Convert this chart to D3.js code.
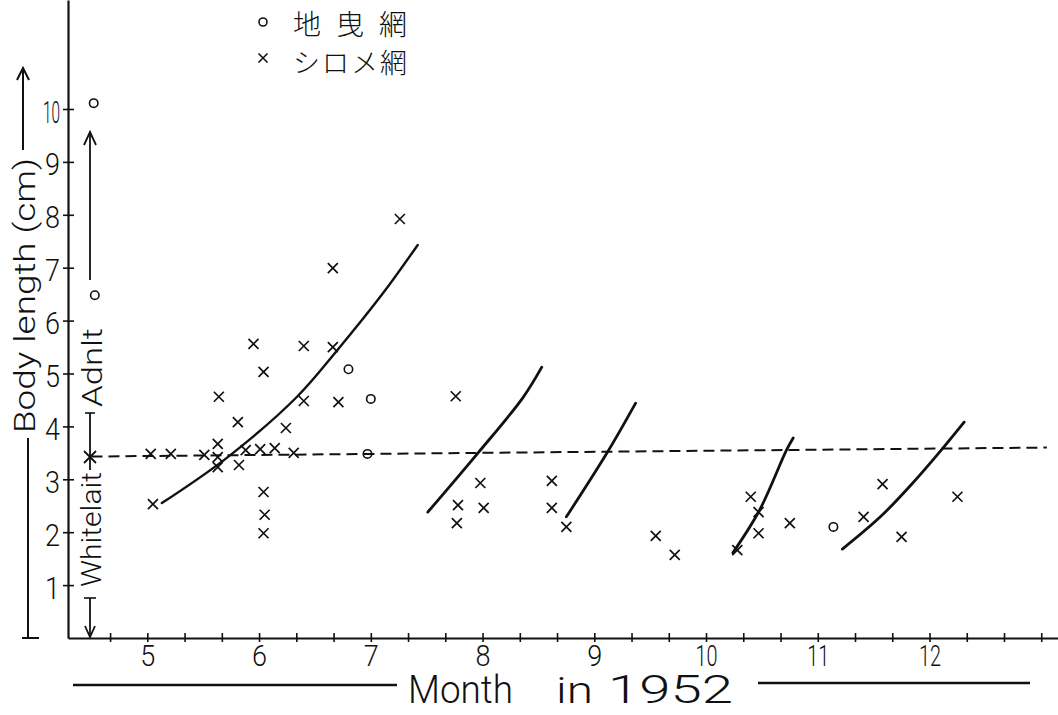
<!DOCTYPE html>
<html>
<head>
<meta charset="utf-8">
<script src="https://cdn.jsdelivr.net/npm/d3@7"></script>
<style>
  html, body { margin: 0; padding: 0; background: #fff; }
  svg { display: block; }
  .lat { font-family: Roboto, "Liberation Sans Narrow", "DejaVu Sans", sans-serif; font-weight: 300; fill: #111; }
  .cjk { font-family: "Noto Sans CJK JP", sans-serif; font-weight: 300; fill: #111; }
</style>
</head>
<body>
<svg id="chart" width="1058" height="715"></svg>
<script>
// ---------------- data ----------------
const monthTicks = [5, 6, 7, 8, 9, 10, 11, 12];
const monthLabels = ["5", "6", "7", "8", "9", "10", "11", "12"];
const lengthTicks = [1, 2, 3, 4, 5, 6, 7, 8, 9, 10];
const lengthLabels = ["1", "2", "3", "4", "5", "6", "7", "8", "9", "10"];

// 地曳網 (circles): month, body length (cm)
const circleMonth  = [4.52, 4.53, 6.80, 7.00, 6.97, 11.14];
const circleLength = [10.11, 6.48, 5.08, 4.52, 3.48, 2.10];

// シロメ網 (crosses): month, body length (cm)
const crossMonth = [
  7.26, 6.66, 5.95, 6.40, 6.66, 6.04, 5.64, 6.40, 6.71, 5.81, 6.24, 5.63, 5.03, 5.21,
  5.51, 5.63, 5.88, 6.01, 6.14, 6.31, 5.63, 5.82, 6.04, 6.05, 6.04, 5.05,
  7.76, 7.98, 7.78, 8.01, 7.77, 8.62, 8.62, 8.75, 9.55, 9.72,
  10.40, 10.47, 10.47, 10.28, 10.75, 11.41, 11.58, 11.75, 12.25
];
const crossLength = [
  7.92, 6.99, 5.56, 5.52, 5.50, 5.03, 4.56, 4.48, 4.46, 4.08, 3.97, 3.67, 3.48, 3.48,
  3.46, 3.42, 3.55, 3.57, 3.59, 3.50, 3.23, 3.27, 2.76, 2.33, 1.98, 2.53,
  4.57, 2.93, 2.51, 2.46, 2.17, 2.97, 2.46, 2.10, 1.93, 1.57,
  2.67, 2.38, 1.98, 1.66, 2.17, 2.29, 2.91, 1.91, 2.67
];

// growth curves: [month, length]
const curve1 = [[5.13, 2.55], [5.72, 3.42], [6.34, 4.56], [6.70, 5.44], [7.11, 6.52], [7.42, 7.43]];
const curve2 = [[7.51, 2.38], [7.96, 3.50], [8.36, 4.54], [8.53, 5.12]];
const curve3 = [[8.75, 2.29], [9.12, 3.52], [9.37, 4.44]];
const curve4 = [[10.24, 1.61], [10.48, 2.42], [10.72, 3.55], [10.78, 3.78]];
const curve5 = [[11.22, 1.68], [11.56, 2.29], [11.85, 2.93], [12.12, 3.59], [12.31, 4.08]];

// whitebait / adult boundary (dashed)
const boundary = [[4.50, 3.43], [13.05, 3.60]];

// ---------------- drawing ----------------
const svg = d3.select("#chart");
const ink = "#111";

const x = d3.scaleLinear().domain([4.29, 13.15]).range([68, 1058]);
const y = d3.scaleLinear().domain([0, 12.06]).range([638, 0]);

// X axis (ticks every 1/3 month, labels on whole months)
const thirds = d3.range(14, 40).map(k => k / 3);
const xAxis = d3.axisBottom(x)
  .tickValues(thirds)
  .tickSize(0)
  .tickSizeOuter(0)
  .tickPadding(8)
  .tickFormat(d => {
    const i = monthTicks.findIndex(m => Math.abs(m - d) < 1e-6);
    return i >= 0 ? monthLabels[i] : "";
  });
const gx = svg.append("g").attr("transform", "translate(0,638)").call(xAxis);
gx.select(".domain").attr("stroke", ink).attr("stroke-width", 2.2);
gx.selectAll(".tick line").attr("stroke", ink).attr("stroke-width", 1.6).attr("y1", -5).attr("y2", 4);
gx.selectAll(".tick text")
  .attr("class", "lat")
  .style("font-size", "30px")
  .attr("fill", ink)
  .attr("dy", "0.68em")
  .each(function(d) {
    const t = d3.select(this).text();
    if (t) d3.select(this).attr("textLength", t.length > 1 ? 22 : 15).attr("lengthAdjust", "spacingAndGlyphs");
  });

// Y axis
const yAxis = d3.axisLeft(y)
  .tickValues(lengthTicks)
  .tickSize(0)
  .tickSizeOuter(0)
  .tickPadding(8)
  .tickFormat((d, i) => lengthLabels[i]);
const gy = svg.append("g").attr("transform", "translate(68,0)").call(yAxis);
gy.select(".domain").attr("stroke", ink).attr("stroke-width", 2.2);
gy.selectAll(".tick line").attr("stroke", ink).attr("stroke-width", 1.6).attr("x1", -5).attr("x2", 6);
gy.selectAll(".tick text")
  .attr("class", "lat")
  .style("font-size", "31px")
  .attr("fill", ink)
  .attr("dy", "0.42em")
  .each(function() {
    const t = d3.select(this).text();
    d3.select(this).attr("textLength", t.length > 1 ? 17 : 15).attr("lengthAdjust", "spacingAndGlyphs");
  });

// dashed boundary line
const line = d3.line().x(d => x(d[0])).y(d => y(d[1]));
svg.append("path")
  .attr("d", line(boundary))
  .attr("fill", "none")
  .attr("stroke", ink)
  .attr("stroke-width", 2)
  .attr("stroke-dasharray", "11,6");

// growth curves
const curveLine = d3.line().x(d => x(d[0])).y(d => y(d[1])).curve(d3.curveCatmullRom);
[curve1, curve2, curve3, curve4, curve5].forEach((c, i) => {
  svg.append("path")
    .attr("d", curveLine(c))
    .attr("fill", "none")
    .attr("stroke", ink)
    .attr("stroke-width", i === 0 ? 2.4 : 2.8)
    .attr("stroke-linecap", "round");
});

// circles (地曳網)
svg.append("g").selectAll("circle")
  .data(circleMonth.map((m, i) => [m, circleLength[i]]))
  .join("circle")
  .attr("cx", d => x(d[0]))
  .attr("cy", d => y(d[1]))
  .attr("r", 4.2)
  .attr("fill", "none")
  .attr("stroke", ink)
  .attr("stroke-width", 1.6);

// crosses (シロメ網)
const xPath = "M-5,-5L5,5M-5,5L5,-5";
svg.append("g").selectAll("path")
  .data(crossMonth.map((m, i) => [m, crossLength[i]]))
  .join("path")
  .attr("d", xPath)
  .attr("transform", d => `translate(${x(d[0])},${y(d[1])})`)
  .attr("fill", "none")
  .attr("stroke", ink)
  .attr("stroke-width", 1.7);

// legend
const lg = svg.append("g");
lg.append("circle").attr("cx", 263).attr("cy", 22).attr("r", 4).attr("fill", "none").attr("stroke", ink).attr("stroke-width", 1.6);
lg.append("path").attr("d", "M-4.5,-4.5L4.5,4.5M-4.5,4.5L4.5,-4.5").attr("transform", "translate(263,58)")
  .attr("fill", "none").attr("stroke", ink).attr("stroke-width", 1.6);
lg.append("text").attr("class", "cjk").attr("x", 293).attr("y", 23).attr("dominant-baseline", "central")
  .style("font-size", "28px").attr("textLength", 114).attr("lengthAdjust", "spacing").text("地曳網");
lg.append("text").attr("class", "cjk").attr("x", 293).attr("y", 61).attr("dominant-baseline", "central")
  .style("font-size", "27px").attr("textLength", 114).attr("lengthAdjust", "spacing").text("シロメ網");

// ---- left annotations ----
const ann = svg.append("g").attr("stroke", ink).attr("fill", "none").attr("stroke-width", 2);
// outer: Body length (cm) with arrow
ann.append("line").attr("x1", 23).attr("y1", 150).attr("x2", 23).attr("y2", 68);
ann.append("path").attr("d", "M17,80L23,68L29,80");
ann.append("line").attr("x1", 28).attr("y1", 438).attr("x2", 28).attr("y2", 638);
ann.append("line").attr("x1", 22).attr("y1", 638).attr("x2", 39).attr("y2", 638);
svg.append("text").attr("class", "lat")
  .attr("transform", "translate(35,433) rotate(-90)")
  .style("font-size", "30px")
  .attr("textLength", 275).attr("lengthAdjust", "spacingAndGlyphs")
  .text("Body length (cm)");

// inner: Adult / Whitebait
ann.append("line").attr("x1", 90).attr("y1", 280).attr("x2", 90).attr("y2", 132).attr("stroke-width", 1.8);
ann.append("path").attr("d", "M84,145L90,132L96,145").attr("stroke-width", 1.8);
ann.append("line").attr("x1", 90).attr("y1", 413).attr("x2", 90).attr("y2", 470).attr("stroke-width", 1.8);
ann.append("line").attr("x1", 85).attr("y1", 413).attr("x2", 95).attr("y2", 413).attr("stroke-width", 1.6);
ann.append("path").attr("d", "M84,451L96,463M84,463L96,451").attr("stroke-width", 1.8);
ann.append("line").attr("x1", 84).attr("y1", 598).attr("x2", 96).attr("y2", 598).attr("stroke-width", 1.6);
ann.append("line").attr("x1", 90).attr("y1", 598).attr("x2", 90).attr("y2", 637).attr("stroke-width", 1.8);
ann.append("path").attr("d", "M85,626L90,637L95,626").attr("stroke-width", 1.8);
svg.append("text").attr("class", "lat")
  .attr("transform", "translate(102,407) rotate(-90)")
  .style("font-size", "28px")
  .attr("textLength", 79).attr("lengthAdjust", "spacingAndGlyphs")
  .text("Adnlt");
svg.append("text").attr("class", "lat")
  .attr("transform", "translate(101,587) rotate(-90)")
  .style("font-size", "28px")
  .attr("textLength", 115).attr("lengthAdjust", "spacingAndGlyphs")
  .text("Whitelait");

// x title
ann.append("line").attr("x1", 73).attr("y1", 685).attr("x2", 397).attr("y2", 685).attr("stroke-width", 2.4);
ann.append("line").attr("x1", 758).attr("y1", 683).attr("x2", 1030).attr("y2", 683).attr("stroke-width", 2.4);
svg.append("text").attr("class", "lat").attr("x", 408).attr("y", 703)
  .style("font-size", "38px").attr("textLength", 105).attr("lengthAdjust", "spacingAndGlyphs").text("Month");
svg.append("text").attr("class", "lat").attr("x", 556).attr("y", 703)
  .style("font-size", "36px").attr("textLength", 37).attr("lengthAdjust", "spacingAndGlyphs").text("in");
svg.append("text").attr("class", "lat").attr("x", 608).attr("y", 703)
  .style("font-size", "38px").attr("textLength", 125).attr("lengthAdjust", "spacingAndGlyphs").text("1952");
</script>
</body>
</html>
